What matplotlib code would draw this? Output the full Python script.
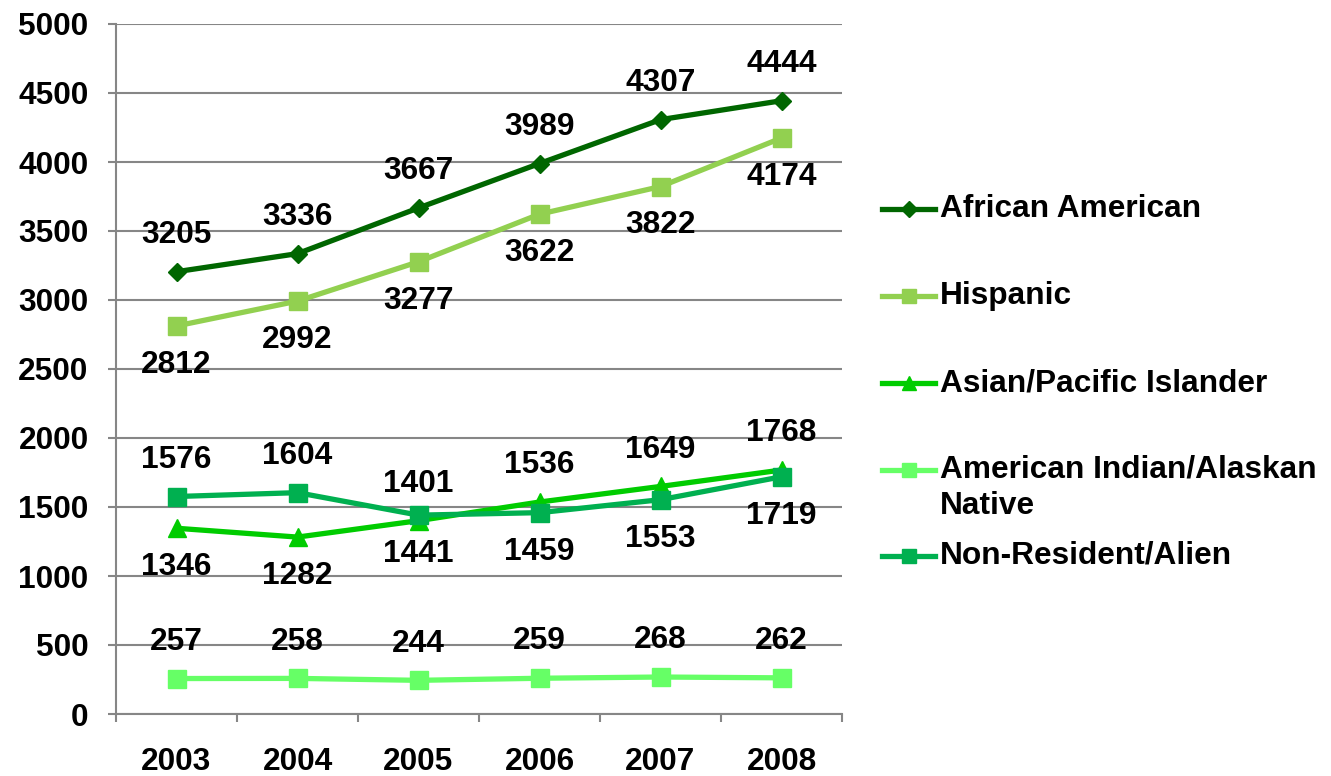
import matplotlib
matplotlib.use("Agg")
import matplotlib.pyplot as plt
from matplotlib.lines import Line2D

plt.rcParams['font.family'] = ['Liberation Sans', 'DejaVu Sans']
plt.rcParams['font.weight'] = 'bold'

years = ['2003', '2004', '2005', '2006', '2007', '2008']
african_american = [3205, 3336, 3667, 3989, 4307, 4444]
hispanic = [2812, 2992, 3277, 3622, 3822, 4174]
asian_pacific = [1346, 1282, 1401, 1536, 1649, 1768]
american_indian = [257, 258, 244, 259, 268, 262]
non_resident = [1576, 1604, 1441, 1459, 1553, 1719]

series_names = ['African American', 'Hispanic', 'Asian/Pacific Islander',
                'American Indian/Alaskan\nNative', 'Non-Resident/Alien']
series_values = [african_american, hispanic, asian_pacific, american_indian, non_resident]
colors = ['#006600', '#92D050', '#00CC00', '#66FF66', '#00B050']
markers = ['D', 's', '^', 's', 's']
msizes = [9, 12.5, 12.5, 12.5, 12.5]
# label placement: +1 above, -1 below, per point
label_side = [
    [1, 1, 1, 1, 1, 1],
    [-1, -1, -1, -1, -1, -1],
    [-1, -1, 1, 1, 1, 1],
    [1, 1, 1, 1, 1, 1],
    [1, 1, -1, -1, -1, -1],
]

W, H, DPI = 1331, 776, 100
fig = plt.figure(figsize=(W / DPI, H / DPI), dpi=DPI)
ax = fig.add_axes([116 / W, 1 - 714 / H, (842 - 116) / W, (714 - 24) / H])

FS = 22.8
grid_col = '#868686'
x = list(range(len(years)))

for vals, col, mk, ms, sides in zip(series_values, colors, markers, msizes, label_side):
    ax.plot(x, vals, color=col, lw=3.8, marker=mk, markersize=ms,
            markerfacecolor=col, markeredgecolor=col, zorder=3, clip_on=False)
    for xi, v, s in zip(x, vals, sides):
        off = 26.5 if s > 0 else -28
        ax.annotate(str(v), (xi, v), xytext=(0, off), textcoords='offset points',
                    ha='center', va='center', fontsize=FS, fontweight='bold',
                    color='black', zorder=4)

ax.set_xlim(-0.5, len(years) - 0.5)
ax.set_ylim(0, 5000)
ax.set_yticks(range(0, 5001, 500))
ax.yaxis.grid(True, color=grid_col, lw=1.5)
ax.set_axisbelow(True)
ax.tick_params(axis='y', length=5.8, width=1.5, color=grid_col, pad=14,
               labelsize=FS)
for lab in ax.get_yticklabels():
    lab.set_fontweight('bold')

ax.set_xticks([i - 0.5 for i in range(len(years) + 1)])
ax.set_xticklabels([])
ax.set_xticks(x, minor=True)
ax.set_xticklabels(years, minor=True, fontsize=FS, fontweight='bold')
ax.tick_params(axis='x', which='major', length=5.8, width=1.5, color=grid_col)
ax.tick_params(axis='x', which='minor', length=0, pad=24)

for sp in ['top', 'right']:
    ax.spines[sp].set_visible(False)
for sp in ['left', 'bottom']:
    ax.spines[sp].set_color(grid_col)
    ax.spines[sp].set_linewidth(1.5)

# legend (manual, to mimic Excel spacing)
leg_y = [209, 296, 383, 470, 556]
for name, col, mk, ms, yy in zip(series_names, colors, markers, msizes, leg_y):
    yf = 1 - yy / H
    fig.add_artist(Line2D([882 / W, 935 / W], [yf, yf], color=col, lw=3.8,
                          transform=fig.transFigure))
    fig.add_artist(Line2D([908.5 / W], [yf], color=col, marker=mk,
                          markersize=ms * 0.85, transform=fig.transFigure))
    fig.text(940 / W, yf, name.split('\n')[0], fontsize=FS, fontweight='bold',
             va='center', ha='left')
    if '\n' in name:
        fig.text(940 / W, 1 - (yy + 36) / H, name.split('\n')[1], fontsize=FS,
                 fontweight='bold', va='center', ha='left')

fig.savefig('out.png', dpi=DPI)
